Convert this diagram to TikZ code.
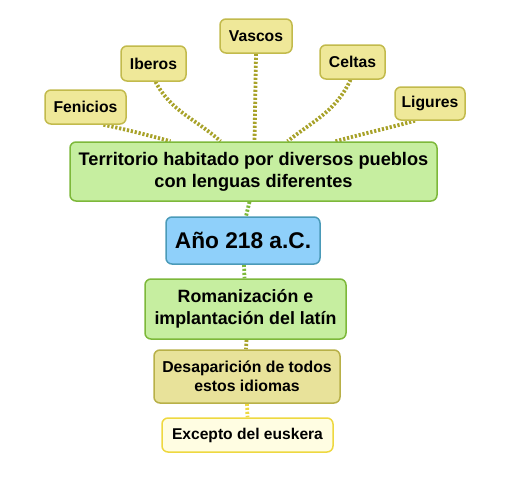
\documentclass[tikz,border=0pt]{standalone}
\usepackage{fontspec}
\setmainfont{Liberation Sans}
\usetikzlibrary{backgrounds}
\definecolor{smallfill}{HTML}{EFE899}
\definecolor{smalldraw}{HTML}{C2BA4C}
\definecolor{greenfill}{HTML}{C6EEA0}
\definecolor{greendraw}{HTML}{7DB83A}
\definecolor{bluefill}{HTML}{8FD0FA}
\definecolor{bluedraw}{HTML}{4A9AB8}
\definecolor{desfill}{HTML}{E8E29A}
\definecolor{desdraw}{HTML}{B8B048}
\definecolor{excfill}{HTML}{FFFDE2}
\definecolor{excdraw}{HTML}{EED840}
\definecolor{olivedot}{HTML}{A8A22A}
\definecolor{greendot}{HTML}{7DB83A}
\definecolor{yellowdot}{HTML}{EED840}
\tikzset{
  box/.style={rounded corners=6pt, line width=1.5pt, align=center, inner sep=0pt, font=\bfseries},
  smallbox/.style={box, fill=smallfill, draw=smalldraw, font=\bfseries\fontsize{15.7}{18}\selectfont},
  dotline/.style={line width=3.8pt, dash pattern=on 2.2pt off 1.8pt},
}
\begin{document}
\begin{tikzpicture}[x=1pt,y=-1pt]
\useasboundingbox (0,0) rectangle (530,480);
% small boxes
\node[smallbox, minimum width=81pt, minimum height=34pt] (fen) at (85.5,107) {Fenicios};
\node[smallbox, minimum width=65pt, minimum height=35pt] (ibe) at (153.5,63.5) {Iberos};
\node[smallbox, minimum width=72pt, minimum height=34pt] (vas) at (256,36) {Vascos};
\node[smallbox, minimum width=65pt, minimum height=34pt] (cel) at (352.5,62) {Celtas};
\node[smallbox, minimum width=70pt, minimum height=33pt] (lig) at (430,103.5) {Ligures};
% main chain
\node[box, fill=greenfill, draw=greendraw, minimum width=367pt, minimum height=59pt,
      font=\bfseries\fontsize{18.2}{22}\selectfont] (ter) at (253.5,171.5)
      {Territorio habitado por diversos pueblos\\con lenguas diferentes};
\node[box, fill=bluefill, draw=bluedraw, minimum width=154pt, minimum height=47pt,
      font=\bfseries\fontsize{22.7}{27}\selectfont] (ano) at (243,240.5) {Año 218 a.C.};
\node[box, fill=greenfill, draw=greendraw, minimum width=201pt, minimum height=60pt,
      font=\bfseries\fontsize{17.8}{22}\selectfont] (rom) at (245.5,309)
      {Romanización e\\implantación del latín};
\node[box, fill=desfill, draw=desdraw, minimum width=186pt, minimum height=53pt,
      font=\bfseries\fontsize{15.8}{19.5}\selectfont] (des) at (247,376.5)
      {Desaparición de todos\\estos idiomas};
\node[box, fill=excfill, draw=excdraw, minimum width=171pt, minimum height=34pt,
      font=\bfseries\fontsize{15.6}{18}\selectfont] (exc) at (247.5,435) {Excepto del euskera};
% connectors
\begin{pgfonlayer}{background}
\draw[dotline, olivedot] ([xshift=18]fen.south) to[out=-12,in=165] ([xshift=-83]ter.north);
\draw[dotline, olivedot] ([xshift=2]ibe.south) to[out=-62,in=138] ([xshift=-33]ter.north);
\draw[dotline, olivedot] (vas.south) -- ([xshift=1]ter.north);
\draw[dotline, olivedot] ([xshift=-2]cel.south) to[out=-115,in=38] ([xshift=34]ter.north);
\draw[dotline, olivedot] ([xshift=-15]lig.south) to[out=-165,in=15] ([xshift=82]ter.north);
\draw[dotline, greendot] ([xshift=-4]ter.south) -- ([xshift=3]ano.north);
\draw[dotline, greendot] ([xshift=1]ano.south) -- ([xshift=-1]rom.north);
\draw[dotline, olivedot] ([xshift=1]rom.south) -- ([xshift=-1]des.north);
\draw[dotline, yellowdot] (des.south) -- (exc.north);
\end{pgfonlayer}
\end{tikzpicture}
\end{document}
